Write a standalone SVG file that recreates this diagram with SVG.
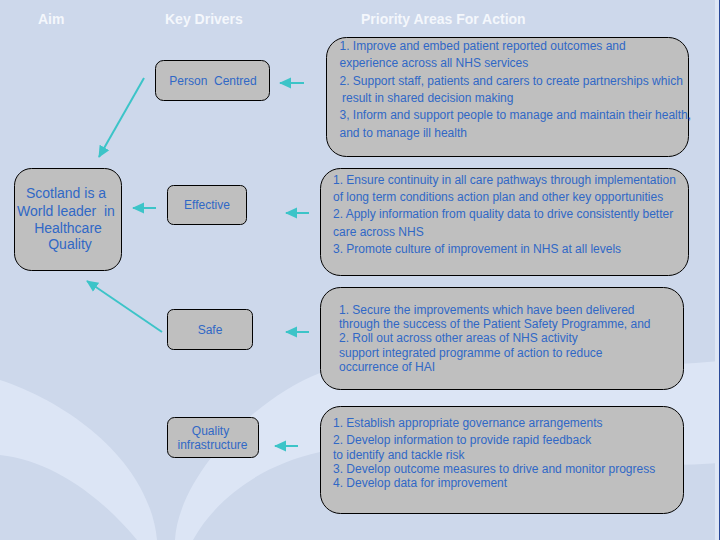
<svg xmlns="http://www.w3.org/2000/svg" width="720" height="540" viewBox="0 0 720 540">
<style>
.box{fill:#bfbfbf;stroke:#000;stroke-width:1}
text{font-family:"Liberation Sans",Arial,sans-serif;fill:#3068c6;font-size:12px;white-space:pre}
.h{fill:#f4f7fc;font-size:14px;font-weight:700}
.b{font-size:14px;text-anchor:middle}
.m{text-anchor:middle}
.a{stroke:#3cc4c8;stroke-width:2;fill:none;marker-end:url(#ah)}
</style>
<defs>
<marker id="ah" markerUnits="userSpaceOnUse" markerWidth="14" markerHeight="14" refX="11" refY="6" orient="auto"><path d="M0,0.500L12,6L0,11.500z" fill="#3cc4c8"/></marker>
</defs>
<rect width="720" height="540" fill="#cdd8eb"/>
<path d="M0,380C75,405 150,465 157,540L137,540C100,495 50,460 0,455z" fill="#dce5f5"/>
<path d="M175,540C178,480 250,400 320,373C450,365 600,372 720,361L720,463C600,472 450,445 320,452C260,465 215,500 193,540z" fill="#dce5f5"/>
<rect x="715" y="0" width="4" height="540" fill="#dfe7f5"/>
<rect x="719" y="0" width="1" height="540" fill="#2a4a9a"/>
<g id="headers"><text class="h" x="38" y="24">Aim</text><text class="h" x="165" y="24">Key Drivers</text><text class="h" x="361" y="24">Priority Areas For Action</text></g>
<g id="aim"><rect class="box" x="14.500" y="168.500" width="107" height="102" rx="17"/>
<text class="b" x="66" y="198">Scotland is a</text>
<text class="b" x="66" y="216">World leader  in</text>
<text class="b" x="68" y="233">Healthcare</text>
<text class="b" x="70" y="249">Quality</text></g>
<g id="person"><rect class="box" x="155.500" y="60.500" width="114" height="40" rx="8"/><text class="m" x="213" y="85">Person  Centred</text></g>
<g id="effective"><rect class="box" x="167.500" y="185.500" width="79" height="39" rx="6"/><text class="m" x="207" y="209">Effective</text></g>
<g id="safe"><rect class="box" x="167.500" y="309.500" width="85" height="40" rx="6"/><text class="m" x="210" y="334">Safe</text></g>
<g id="quality"><rect class="box" x="167.500" y="417.500" width="91" height="40" rx="7"/><text class="m" x="210.500" y="435">Quality</text><text class="m" x="212.500" y="449">infrastructure</text></g>
<g id="p1"><rect class="box" x="326.500" y="37.500" width="362" height="119" rx="20"/>
<text x="339.500" y="50">1. Improve and embed patient reported outcomes and</text><text x="339.500" y="67">experience across all NHS services</text><text x="339.500" y="85">2. Support staff, patients and carers to create partnerships which</text><text x="342" y="102">result in shared decision making</text><text x="339.500" y="119">3, Inform and support people to manage and maintain their health,</text><text x="339.500" y="137">and to manage ill health</text></g>
<g id="p2"><rect class="box" x="320.500" y="168.500" width="368" height="107" rx="20"/>
<text x="333" y="184">1. Ensure continuity in all care pathways through implementation</text><text x="333" y="201">of long term conditions action plan and other key opportunities</text><text x="333" y="218">2. Apply information from quality data to drive consistently better</text><text x="333" y="236">care across NHS</text><text x="333" y="253">3. Promote culture of improvement in NHS at all levels</text></g>
<g id="p3"><rect class="box" x="320.500" y="287.500" width="363" height="102" rx="20"/>
<text x="339" y="314">1. Secure the improvements which have been delivered</text><text x="339" y="328">through the success of the Patient Safety Programme, and</text><text x="339" y="342">2. Roll out across other areas of NHS activity</text><text x="339" y="357">support integrated programme of action to reduce</text><text x="339" y="371">occurrence of HAI</text></g>
<g id="p4"><rect class="box" x="320.500" y="406.500" width="363" height="107" rx="20"/>
<text x="333" y="427">1. Establish appropriate governance arrangements</text><text x="333" y="444">2. Develop information to provide rapid feedback</text><text x="333" y="459">to identify and tackle risk</text><text x="333" y="473">3. Develop outcome measures to drive and monitor progress</text><text x="333" y="487">4. Develop data for improvement</text></g>
<g id="connectors">
<path class="a" d="M304,83L280,83"/>
<path class="a" d="M309,213L286,213"/>
<path class="a" d="M309,332L286,332"/>
<path class="a" d="M298,446L275,446"/>
<path class="a" d="M156,208L133,208"/>
<path class="a" d="M144,78L99,157"/>
<path class="a" d="M162,332L87,281"/>
</g>
</svg>
